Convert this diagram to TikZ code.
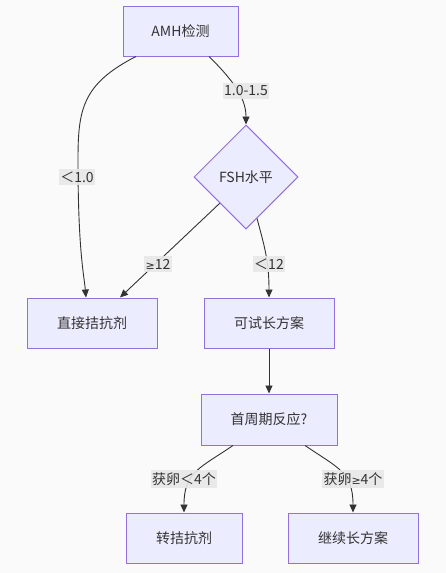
\documentclass[tikz,border=0pt]{standalone}
\usepackage{fontspec}
\setmainfont{Noto Sans CJK SC}
\newfontfamily\symfont{DejaVu Sans}
\newcommand{\geqs}{{\symfont\fontsize{11}{13}\selectfont ≥}}
\usetikzlibrary{shapes.geometric,arrows.meta,calc}
\definecolor{nodefill}{HTML}{ECECFF}
\definecolor{nodeline}{HTML}{9370DB}
\definecolor{edgecol}{HTML}{333333}
\definecolor{lblbg}{HTML}{E8E8E8}
\definecolor{bgcol}{HTML}{FAFAFA}
\definecolor{txt}{HTML}{333333}
\tikzset{
  box/.style={draw=nodeline, fill=nodefill, line width=1pt, inner sep=0pt, text=txt,
    font=\fontsize{14}{17}\selectfont},
  dia/.style={diamond, draw=nodeline, fill=nodefill, line width=1pt, inner sep=0pt,
    minimum width=104pt, minimum height=104pt, text=txt, font=\fontsize{14}{17}\selectfont},
  lbl/.style={fill=lblbg, fill opacity=0.9, text opacity=1, text=txt, inner xsep=1.5pt, inner ysep=3pt,
    font=\fontsize{14}{17}\selectfont},
  edge/.style={draw=edgecol, line width=0.9pt, -{Triangle[length=8pt,width=7pt]}},
}
\begin{document}
\begin{tikzpicture}[x=1pt,y=-1pt]
\fill[bgcol] (0,0) rectangle (446,573);
\useasboundingbox (0,0) rectangle (446,573);

\node[box, minimum width=115pt, minimum height=50pt] (amh) at (180.5,31) {AMH检测};
\node[dia] (fsh) at (246,177) {FSH水平};
\node[box, minimum width=130pt, minimum height=50pt] (zj) at (92,323) {直接拮抗剂};
\node[box, minimum width=130pt, minimum height=50pt] (ks) at (269,323) {可试长方案};
\node[box, minimum width=136pt, minimum height=51pt] (sz) at (269,419.5) {首周期反应?};
\node[box, minimum width=116pt, minimum height=50pt] (zh) at (184,538) {转拮抗剂};
\node[box, minimum width=130pt, minimum height=50pt] (jx) at (353,538) {继续长方案};

% edges
\draw[edge] ($(amh.south)+(-44.5,0)$) .. controls (82,84) and (78,110) .. (78,160)
  .. controls (78,250) and (84,275) .. ($(zj.north)+(-6,0)$);
\draw[edge] ($(amh.south)+(28.5,0)$) .. controls (236,83) and (246,100) .. (fsh.north);
\draw[edge] ($(fsh.west)!0.5!(fsh.south)$) -- ($(zj.north)+(28,0)$);
\draw[edge] ($(fsh.east)!0.79!(fsh.south)$) .. controls (264,245) and (269,260) .. (ks.north);
\draw[edge] (ks.south) -- (sz.north);
\draw[edge] ($(sz.south)+(-36,0)$) .. controls (200,468) and (184,472) .. (zh.north);
\draw[edge] ($(sz.south)+(36,0)$) .. controls (338,468) and (353,472) .. (jx.north);

% labels
\node[lbl] (l1) at (77,177) {＜1.0};
\node[lbl] (l2) at (246,91) {1.0-1.5};
\node[lbl] (l3) at (158,264) {\geqs12};
\node[lbl] (l4) at (269,264) {＜12};
\node[lbl] (l5) at (184,479) {获卵＜4个};
\node[lbl] (l6) at (353,479) {获卵\geqs4个};
\end{tikzpicture}
\end{document}
